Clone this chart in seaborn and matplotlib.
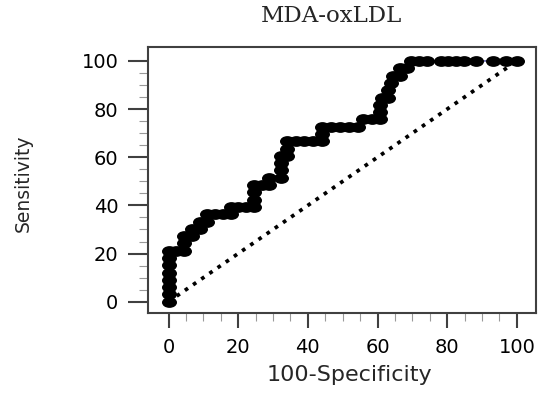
import matplotlib
matplotlib.use('Agg')
import numpy as np
import pandas as pd
import seaborn as sns
import matplotlib.pyplot as plt
from matplotlib.path import Path
from matplotlib.markers import MarkerStyle
from matplotlib.transforms import Affine2D

# ROC-Punkte (100-Spezifität, Sensitivität) in %
fpr = [0, 0, 0, 0, 0, 0, 0, 0,
       2.2, 4.4, 4.4, 4.4, 6.7, 6.7, 8.9, 8.9, 11.1,
       11.1, 13.3, 15.6, 17.8, 17.8, 20.0, 22.2, 24.4,
       24.4, 24.4, 24.4, 26.7, 28.9, 28.9, 32.2, 32.2, 32.2,
       32.2, 34.0, 34.0, 34.0, 36.5, 39.0, 41.5, 44.0, 44.0,
       44.0, 46.6, 49.2, 51.8, 54.4, 55.8, 58.4, 60.8,
       60.8, 60.8, 61.2, 63.0, 63.0, 64.0, 64.5, 66.5, 66.5, 68.5,
       69.5, 71.8, 74.2, 78.1, 80.3, 82.5, 84.7, 88.3, 93.1, 96.9, 100]
tpr = [0, 3.0, 6.1, 9.1, 12.1, 15.2, 18.2, 21.2,
       21.2, 21.2, 24.2, 27.3, 27.3, 30.3, 30.3, 33.3, 33.3,
       36.4, 36.4, 36.4, 36.4, 39.4, 39.4, 39.4, 39.4,
       42.4, 45.5, 48.5, 48.5, 48.5, 51.5, 51.5, 54.5, 57.6,
       60.6, 60.6, 63.6, 66.7, 66.7, 66.7, 66.7, 66.7, 69.7,
       72.7, 72.7, 72.7, 72.7, 72.7, 75.8, 75.8, 75.8,
       78.8, 81.8, 84.8, 84.8, 87.9, 90.9, 93.9, 93.9, 97.0, 97.0,
       100, 100, 100, 100, 100, 100, 100, 100, 100, 100, 100]
diag = [0, 100]

df = pd.DataFrame({'fpr': fpr, 'tpr': tpr})

sns.set_style('ticks')
plt.rcParams['font.family'] = ['DejaVu Sans']

# elliptischer Marker (Bild ist horizontal gestreckt)
ellipse = Path.unit_circle().transformed(Affine2D().scale(1.39, 1.0))

fig = plt.figure(figsize=(5.5, 3.93), dpi=100)
ax = fig.add_axes([148 / 550, 1 - 313 / 393, (536 - 148) / 550, (313 - 47) / 393])

sns.lineplot(x=diag, y=diag, ax=ax, color='black', lw=2.7, linestyle=':', zorder=2)
sns.lineplot(data=df, x='fpr', y='tpr', sort=False, estimator=None, ax=ax,
             color='#2b2b8c', lw=0.9, zorder=2.5)
sns.scatterplot(data=df, x='fpr', y='tpr', ax=ax, marker=MarkerStyle(ellipse),
                s=10.8 ** 2, color='black', edgecolor='black', linewidth=0, zorder=3)

ax.set_xlim(-5.9, 105.5)
ax.set_ylim(-4.7, 105.8)
ax.set_xticks(range(0, 101, 20))
ax.set_xticks(range(0, 101, 5), minor=True)
ax.set_yticks(range(0, 101, 20))
ax.set_yticks(range(0, 101, 5), minor=True)

ax.tick_params(axis='y', which='major', length=14.4, width=1.5, color='#404040',
               pad=7, labelsize=14, labelcolor='black')
ax.tick_params(axis='y', which='minor', length=6.5, width=0.8, color='#999999')
ax.tick_params(axis='x', which='major', length=10.8, width=1.5, color='#404040',
               pad=7, labelsize=14, labelcolor='black')
ax.tick_params(axis='x', which='minor', length=5.8, width=0.8, color='#999999')

for s in ax.spines.values():
    s.set_linewidth(1.5)
    s.set_color('#404040')

ax.set_xlabel('100-Specificity', fontsize=16)
ax.set_ylabel('Sensitivity', fontsize=13.5)
ax.xaxis.set_label_coords(0.52, -0.195)
ax.yaxis.set_label_coords(-0.296, 0.489)

fig.text(332 / 550, 1 - 22 / 393, 'MDA-oxLDL', family='DejaVu Serif',
         fontsize=16.5, ha='center', va='baseline')

fig.savefig('out.png', dpi=100)
